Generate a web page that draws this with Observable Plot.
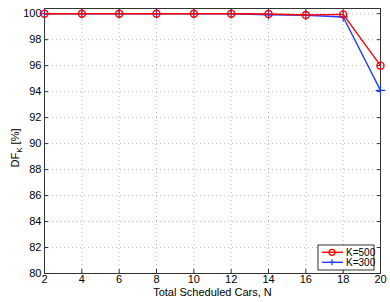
<!DOCTYPE html>
<html><head><meta charset="utf-8">
<script src="https://cdn.jsdelivr.net/npm/d3@7"></script>
<script src="https://cdn.jsdelivr.net/npm/@observablehq/plot@0.6"></script>
<style>body{margin:0;background:#fff;}svg{font-family:"Liberation Sans",Arial,sans-serif;}</style>
</head><body><div id="chart"></div>
<script>
const N = [2,4,6,8,10,12,14,16,18,20];
const k500 = [100,100,100,100,100,100,99.98,99.9,99.95,96.0];
const k300 = [100,100,100,100,100,100,99.92,99.88,99.75,94.1];
const xTicks = [2,4,6,8,10,12,14,16,18,20];
const yTicks = [80,82,84,86,88,90,92,94,96,98,100];
const seriesNames = ["K=500","K=300"];

const d500 = N.map((n,i)=>({n, v:k500[i]}));
const d300 = N.map((n,i)=>({n, v:k300[i]}));
const grid = {stroke:"#bbb", strokeDasharray:"1,3", strokeOpacity:1};
const noText = () => "";

const plot = Plot.plot({
  width:390, height:302,
  marginLeft:44, marginRight:10, marginTop:8, marginBottom:29,
  style:{fontSize:"11px", fontFamily:"Liberation Sans, Arial, sans-serif", color:"#000", background:"#fff"},
  x:{domain:[2,20]},
  y:{domain:[80,100.4]},
  marks:[
    Plot.gridX(xTicks, grid),
    Plot.gridY(yTicks, grid),
    Plot.axisX(xTicks, {anchor:"bottom", tickSize:-4, tickPadding:6, label:"Total Scheduled Cars, N", labelAnchor:"center", labelArrow:"none", labelOffset:22, stroke:"#333"}),
    Plot.axisX(xTicks, {anchor:"top", tickSize:-4, tickFormat:noText, label:null, stroke:"#333"}),
    Plot.axisY(yTicks, {anchor:"left", tickSize:-4, tickPadding:7, label:null, stroke:"#333"}),
    Plot.axisY(yTicks, {anchor:"right", tickSize:-4, tickFormat:noText, label:null, stroke:"#333"}),
    Plot.frame({stroke:"#333"}),
    Plot.line(d300, {x:"n", y:"v", stroke:"#1f3fff", strokeWidth:1.4}),
    Plot.dot(d300, {x:"n", y:"v", symbol:"plus", r:3.2, stroke:"#1f3fff", strokeWidth:1.2}),
    Plot.line(d500, {x:"n", y:"v", stroke:"#ff0000", strokeWidth:1.4}),
    Plot.dot(d500, {x:"n", y:"v", symbol:"circle", r:3.5, stroke:"#ff0000", strokeWidth:1.4, fill:"none"})
  ]
});
document.getElementById("chart").appendChild(plot);

const svg = d3.select(plot);
// y label with subscript
const yl = svg.append("text")
  .attr("transform","translate(19,148) rotate(-90)")
  .attr("text-anchor","middle").attr("font-size",11).attr("fill","#000");
yl.append("tspan").text("DF");
yl.append("tspan").attr("font-size",8).attr("dy",3).text("K");
yl.append("tspan").attr("dy",-3).text(" [%]");

// legend
const lg = svg.append("g").attr("transform","translate(318,245)");
lg.append("rect").attr("width",56).attr("height",25).attr("fill","#fff").attr("stroke","#000").attr("stroke-width",0.8);
const cols = ["#ff0000","#1f3fff"];
seriesNames.forEach((name,i)=>{
  const y = 7.3 + i*10;
  lg.append("line").attr("x1",4).attr("x2",25).attr("y1",y).attr("y2",y).attr("stroke",cols[i]).attr("stroke-width",1.4);
  if(i===0) lg.append("circle").attr("cx",14).attr("cy",y).attr("r",3).attr("fill","none").attr("stroke",cols[i]).attr("stroke-width",1.3);
  else lg.append("path").attr("d",`M11,${y}h6M14,${y-3}v6`).attr("stroke",cols[i]).attr("stroke-width",1.2);
  lg.append("text").attr("x",28).attr("y",y+3.5).attr("font-size",10).attr("text-anchor","start").attr("fill","#000").text(name);
});
</script></body></html>
